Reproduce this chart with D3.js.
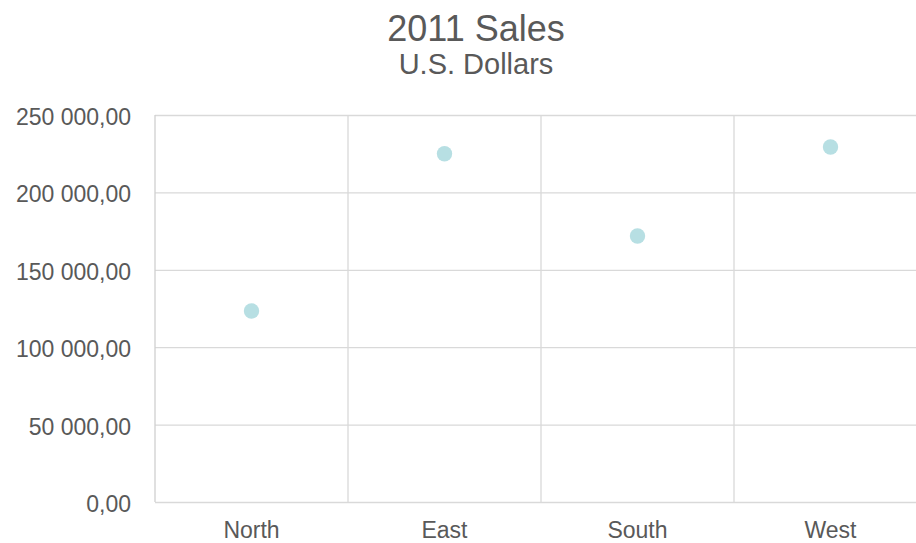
<!DOCTYPE html>
<html>
<head>
<meta charset="utf-8">
<script src="https://cdn.jsdelivr.net/npm/d3@7"></script>
<style>
  html, body { margin: 0; padding: 0; background: #fff; overflow: hidden; }
  svg { display: block; font-family: "Liberation Sans", Arial, sans-serif; }
</style>
</head>
<body>
<svg id="chart" width="916" height="543"></svg>
<script>
// Regional sales for 2011
const regions = ["North", "East", "South", "West"];
const sales = [123400, 225000, 171800, 229300];
const yTicks = [0, 50000, 100000, 150000, 200000, 250000];
const titleText = "2011 Sales";
const subtitleText = "U.S. Dollars";

const svg = d3.select("#chart");
const plot = { left: 155, right: 927, top: 115, bottom: 502 };
const titleCenter = 476;

const x = d3.scaleBand().domain(regions).range([plot.left, plot.right]);
const y = d3.scaleLinear().domain([0, 250000]).range([plot.bottom, plot.top]);

// "250 000,00" style: space thousands separator, comma decimal
const fmt = v => d3.format(",.2f")(v).replace(/,/g, " ").replace(".", ",");

// horizontal gridlines
svg.append("g")
  .attr("transform", `translate(${plot.left},0)`)
  .call(d3.axisLeft(y).tickValues(yTicks).tickSize(-(plot.right - plot.left)).tickFormat(""))
  .call(g => g.select(".domain").remove())
  .call(g => g.selectAll("line").attr("stroke", "#d9d9d9").attr("stroke-width", 1.3));

// vertical category dividers
svg.append("g")
  .selectAll("line")
  .data(regions.slice(1))
  .join("line")
  .attr("x1", d => x(d)).attr("x2", d => x(d))
  .attr("y1", plot.top).attr("y2", plot.bottom)
  .attr("stroke", "#d9d9d9").attr("stroke-width", 1.3);

// left axis line
svg.append("line")
  .attr("x1", plot.left).attr("x2", plot.left)
  .attr("y1", plot.top).attr("y2", plot.bottom)
  .attr("stroke", "#d0d0d0").attr("stroke-width", 1.3);

// y tick labels
svg.append("g")
  .selectAll("text")
  .data(yTicks)
  .join("text")
  .attr("x", 131)
  .attr("y", d => y(d) + 10)
  .attr("text-anchor", "end")
  .attr("font-size", 23)
  .attr("fill", "#595959")
  .text(fmt);

// category labels
svg.append("g")
  .selectAll("text")
  .data(regions)
  .join("text")
  .attr("x", d => x(d) + x.bandwidth() / 2)
  .attr("y", 538)
  .attr("text-anchor", "middle")
  .attr("font-size", 23)
  .attr("fill", "#595959")
  .text(d => d);

// data points
svg.append("g")
  .selectAll("circle")
  .data(regions.map((r, i) => ({ region: r, value: sales[i] })))
  .join("circle")
  .attr("cx", d => x(d.region) + x.bandwidth() / 2)
  .attr("cy", d => y(d.value))
  .attr("r", 7.7)
  .attr("fill", "#b7dfe3");

// titles
svg.append("text")
  .attr("x", titleCenter)
  .attr("y", 41)
  .attr("text-anchor", "middle")
  .attr("font-size", 36)
  .attr("fill", "#595959")
  .text(titleText);

svg.append("text")
  .attr("x", titleCenter)
  .attr("y", 74)
  .attr("text-anchor", "middle")
  .attr("font-size", 29)
  .attr("fill", "#595959")
  .text(subtitleText);
</script>
</body>
</html>
